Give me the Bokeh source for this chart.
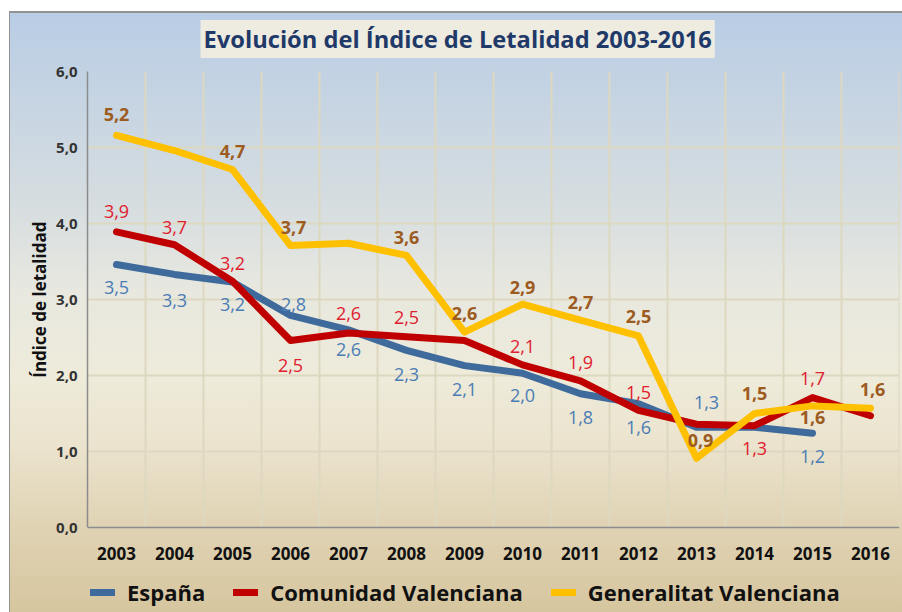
import math
from bokeh.plotting import figure
from bokeh.models import Range1d, FixedTicker, Legend, LegendItem, ColumnDataSource, Title
from bokeh.core.properties import value
from bokeh.embed import file_html
from bokeh.resources import INLINE

# ---------------- data ----------------
years = [2003, 2004, 2005, 2006, 2007, 2008, 2009, 2010, 2011, 2012, 2013, 2014, 2015, 2016]
y_ticks = [0, 1, 2, 3, 4, 5, 6]
y_tick_labels = ["0,0", "1,0", "2,0", "3,0", "4,0", "5,0", "6,0"]

espana = [3.46, 3.33, 3.23, 2.79, 2.60, 2.33, 2.13, 2.03, 1.76, 1.63, 1.32, 1.32, 1.24, float("nan")]
comunidad = [3.89, 3.72, 3.24, 2.46, 2.56, 2.51, 2.46, 2.14, 1.93, 1.54, 1.36, 1.34, 1.71, 1.47]
generalitat = [5.16, 4.96, 4.71, 3.71, 3.74, 3.58, 2.57, 2.94, 2.73, 2.52, 0.91, 1.50, 1.60, 1.57]

espana_labels = ["3,5", "3,3", "3,2", "2,8", "2,6", "2,3", "2,1", "2,0", "1,8", "1,6", "1,3", "", "1,2", ""]
comunidad_labels = ["3,9", "3,7", "3,2", "2,5", "2,6", "2,5", "", "2,1", "1,9", "1,5", "", "1,3", "1,7", ""]
generalitat_labels = ["5,2", "", "4,7", "3,7", "", "3,6", "2,6", "2,9", "2,7", "2,5", "0,9", "1,5", "1,6", "1,6"]

series_names = ["España", "Comunidad Valenciana", "Generalitat Valenciana"]
chart_title = "Evolución del Índice de Letalidad 2003-2016"
y_title = "Índice de letalidad"

# label placement (screen px, positive = downwards)
espana_dy = [23, 26, 22, -11, 20, 24, 24, 22, 24, 24, -25, 0, 23, 0]
espana_dx = [0, 0, 0, 3, 0, 0, 0, 0, 0, 0, 10, 0, 0, 0]
comunidad_dy = [-20, -17, -18, 25, -19, -19, 0, -18, -18, -18, 0, 23, -19, 0]
comunidad_dx = [0, 0, 0, 0, 0, 0, 0, 0, 0, 0, 0, 0, 0, 0]
generalitat_dy = [-21, 0, -18, -18, 0, -18, -19, -17, -18, -19, -18, -20, 12, -19]
generalitat_dx = [0, 0, 0, 3, 0, 0, 0, 0, 0, 0, 4, 0, 0, 2]

# ---------------- figure ----------------
Y_MIN, Y_MAX = 0, 6
# frame runs from y=71 to y=609 px; value axis occupies 456 px (76 px per unit)
y_start = Y_MAX - 538 / 76.0

p = figure(width=902, height=612, output_backend="svg", toolbar_location=None,
           x_range=Range1d(2002.5, 2016.5), y_range=Range1d(y_start, Y_MAX),
           title=chart_title,
           min_border_left=87, min_border_right=3, min_border_top=71, min_border_bottom=3)
p.background_fill_color = None
p.border_fill_color = None
p.outline_line_color = None

grad = ("linear-gradient(to bottom, #ffffff 0px, #ffffff 11px, rgba(0,0,0,0) 11px), "
        "linear-gradient(to right, #ffffff 0px, #ffffff 9px, #929292 9px, #929292 10px, rgba(0,0,0,0) 10px), "
        "linear-gradient(to bottom, #929292 0px, #929292 13px, #B9CDE5 13px, #D4DCE0 31.8%, "
        "#E8E8DF 48%, #EEEBDA 61.6%, #EBE3CD 73%, #E0D3B4 86%, #D6C69F 100%)")
p.styles = {"background": grad}

# title
p.title.align = "left"
p.title.offset = 113
p.title.standoff = 27
p.title.text_font = "Open Sans"
p.title.text_font_style = "bold"
p.title.text_font_size = "23.7px"
p.title.text_color = "#1F3A68"
p.title.background_fill_color = "#EEECE1"
p.title.padding = 3

# grids
GRID_COLOR = "#DDD8C0"
p.xgrid.visible = False
p.ygrid.ticker = FixedTicker(ticks=y_ticks)
p.ygrid.grid_line_color = GRID_COLOR
p.ygrid.grid_line_width = 2
bounds_x = [y + 0.5 for y in years]
p.segment(x0=bounds_x, y0=[Y_MIN] * len(bounds_x), x1=bounds_x, y1=[Y_MAX] * len(bounds_x),
          line_color=GRID_COLOR, line_width=2)

# axes
p.xaxis.fixed_location = 0
p.xaxis.ticker = FixedTicker(ticks=years)
p.xaxis.major_label_overrides = {y: str(y) for y in years}
p.yaxis.ticker = FixedTicker(ticks=y_ticks)
p.yaxis.major_label_overrides = dict(zip(y_ticks, y_tick_labels))
p.yaxis.bounds = (Y_MIN, Y_MAX)
for ax in (p.xaxis, p.yaxis):
    ax.axis_line_color = "#8C8C8C"
    ax.axis_line_width = 1.5
    ax.major_tick_line_color = None
    ax.minor_tick_line_color = None
    ax.major_tick_out = 0
    ax.major_tick_in = 0
    ax.major_label_text_font = "Open Sans"
    ax.major_label_text_font_style = "bold"
p.xaxis.major_label_text_font_size = "17px"
p.xaxis.major_label_text_color = "#111111"
p.xaxis.major_label_standoff = 19
p.yaxis.major_label_text_font_size = "15px"
p.yaxis.major_label_text_color = "#333333"
p.yaxis.major_label_standoff = 10

# value-axis title (aligned to the 0-6 value band rather than the whole frame)
ytitle = Title(text=y_title, align="right", offset=150, standoff=6,
               text_font="Open Sans", text_font_style="bold", text_font_size="17px",
               text_color="#111111")
p.add_layout(ytitle, "left")

# lines
line_colors = ["#3F6A9C", "#C00000", "#FFC000"]
label_colors = ["#4A7CB5", "#E0202F", "#9C5B1F"]
label_styles = ["normal", "normal", "bold"]
all_vals = [espana, comunidad, generalitat]
all_labels = [espana_labels, comunidad_labels, generalitat_labels]
all_dy = [espana_dy, comunidad_dy, generalitat_dy]
all_dx = [espana_dx, comunidad_dx, generalitat_dx]

renderers = []
for vals, col in zip(all_vals, line_colors):
    r = p.line(years, vals, line_color=col, line_width=7, line_join="round", line_cap="round")
    renderers.append(r)

for vals, labs, dy, dx, col, sty in zip(all_vals, all_labels, all_dy, all_dx, label_colors, label_styles):
    xs, ys, ts, oy, ox = [], [], [], [], []
    for yr, v, t, a, b in zip(years, vals, labs, dy, dx):
        if t and not math.isnan(v):
            xs.append(yr); ys.append(v); ts.append(t); oy.append(a); ox.append(b)
    src = ColumnDataSource(dict(x=xs, y=ys, text=ts, yo=oy, xo=ox))
    p.text(x="x", y="y", text="text", x_offset="xo", y_offset="yo", source=src,
           text_align="center", text_baseline="middle",
           text_font=value("Open Sans"), text_font_size="18px",
           text_font_style=sty, text_color=col)

# legend (inside the extended frame, below the category axis)
legend = Legend(items=[LegendItem(label=n, renderers=[r]) for n, r in zip(series_names, renderers)],
                orientation="horizontal", location=(3, 2),
                glyph_width=25, glyph_height=20, label_standoff=12, spacing=28,
                padding=0, margin=0, border_line_color=None, background_fill_alpha=0,
                label_text_font="Open Sans", label_text_font_style="bold",
                label_text_font_size="22px", label_text_color="#111111")
p.add_layout(legend)

open("out.html", "w").write(file_html(p, INLINE))
